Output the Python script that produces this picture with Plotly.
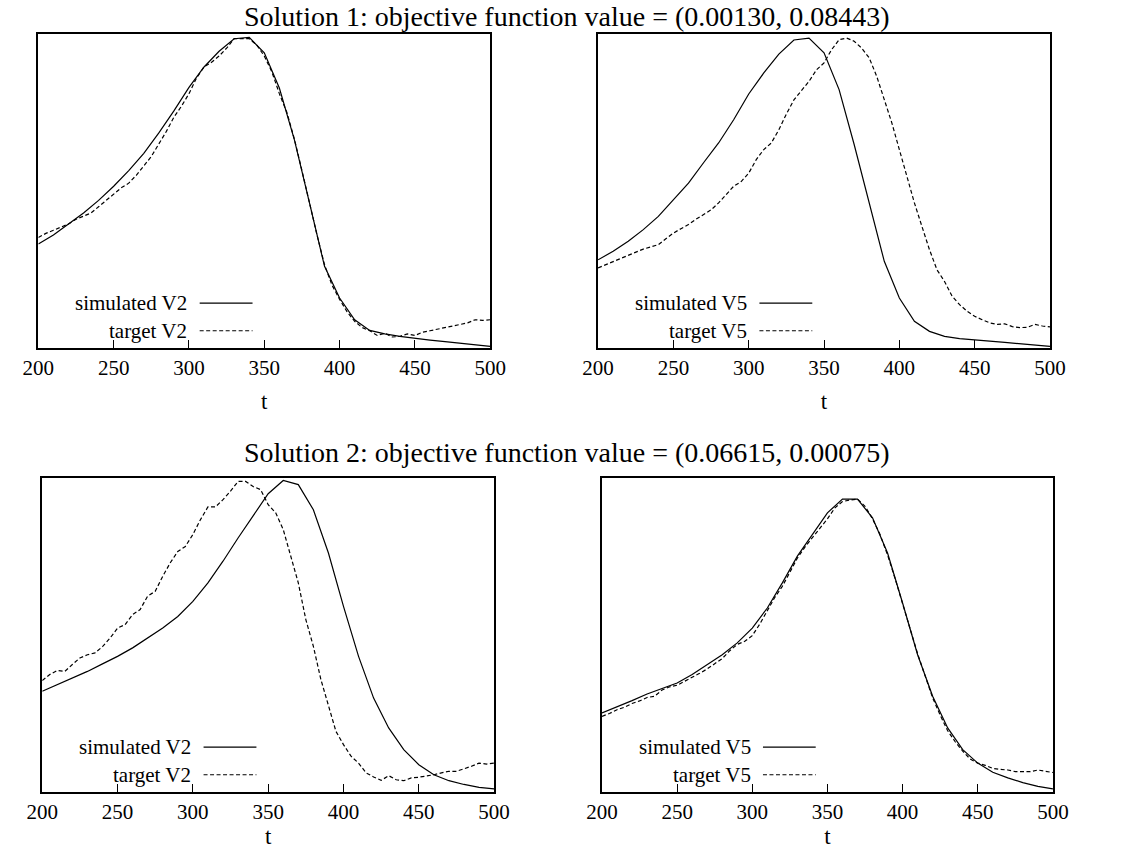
import plotly.graph_objects as go

# ---------------- data ----------------
t_sim = list(range(200, 501, 10))
t_tgt = list(range(200, 501, 5))

sol1_sim_v2 = [0.331, 0.36, 0.395, 0.43, 0.47, 0.515, 0.565, 0.62, 0.685, 0.755, 0.83,
               0.895, 0.945, 0.985, 0.989, 0.94, 0.828, 0.663, 0.462, 0.26, 0.159,
               0.09, 0.056, 0.045, 0.037, 0.030, 0.025, 0.02, 0.015, 0.01, 0.005]
sol1_tgt_v2 = [0.352, 0.365, 0.375, 0.385, 0.395, 0.41, 0.42, 0.43, 0.45, 0.47, 0.49,
               0.51, 0.525, 0.55, 0.58, 0.61, 0.65, 0.69, 0.735, 0.77, 0.81,
               0.86, 0.895, 0.91, 0.93, 0.955, 0.985, 0.985, 0.985, 0.965, 0.93,
               0.88, 0.81, 0.75, 0.665, 0.565, 0.46, 0.36, 0.265, 0.2, 0.155,
               0.115, 0.085, 0.065, 0.055, 0.04, 0.047, 0.035, 0.037, 0.045, 0.04,
               0.05, 0.055, 0.06, 0.065, 0.07, 0.075, 0.08, 0.09, 0.088, 0.09]

sol1_sim_v5 = [0.281, 0.308, 0.34, 0.377, 0.419, 0.472, 0.525, 0.59, 0.653, 0.727, 0.809,
               0.876, 0.936, 0.981, 0.987, 0.94, 0.823, 0.648, 0.462, 0.276, 0.159,
               0.085, 0.053, 0.037, 0.03, 0.027, 0.022, 0.018, 0.013, 0.009, 0.005]
sol1_tgt_v5 = [0.255, 0.265, 0.276, 0.286, 0.297, 0.306, 0.315, 0.322, 0.329, 0.348, 0.366,
               0.38, 0.393, 0.41, 0.425, 0.44, 0.462, 0.49, 0.515, 0.53, 0.557,
               0.6, 0.632, 0.653, 0.695, 0.745, 0.79, 0.82, 0.849, 0.886, 0.908,
               0.95, 0.982, 0.987, 0.977, 0.955, 0.924, 0.865, 0.79, 0.717, 0.632,
               0.547, 0.462, 0.387, 0.313, 0.249, 0.212, 0.165, 0.138, 0.117, 0.101,
               0.09, 0.08, 0.075, 0.077, 0.068, 0.065, 0.066, 0.075, 0.07, 0.067]

sol2_sim_v2 = [0.321, 0.342, 0.363, 0.384, 0.408, 0.432, 0.459, 0.49, 0.522, 0.559, 0.607,
               0.666, 0.735, 0.809, 0.878, 0.95, 0.992, 0.979, 0.899, 0.761, 0.591,
               0.432, 0.299, 0.204, 0.135, 0.087, 0.055, 0.036, 0.024, 0.015, 0.01]
sol2_tgt_v2 = [0.355, 0.374, 0.387, 0.384, 0.406, 0.427, 0.437, 0.443, 0.463, 0.49, 0.522,
               0.533, 0.565, 0.581, 0.624, 0.639, 0.687, 0.73, 0.766, 0.782, 0.82,
               0.867, 0.908, 0.908, 0.931, 0.958, 0.989, 0.989, 0.973, 0.963, 0.915,
               0.889, 0.836, 0.751, 0.666, 0.549, 0.464, 0.358, 0.278, 0.193, 0.151,
               0.114, 0.092, 0.061, 0.048, 0.037, 0.052, 0.039, 0.036, 0.045, 0.047,
               0.05, 0.055, 0.061, 0.066, 0.066, 0.073, 0.082, 0.092, 0.089, 0.092]

sol2_sim_v5 = [0.252, 0.271, 0.291, 0.312, 0.33, 0.347, 0.374, 0.406, 0.437, 0.475, 0.522,
               0.586, 0.666, 0.751, 0.82, 0.889, 0.933, 0.933, 0.873, 0.761, 0.602,
               0.437, 0.305, 0.204, 0.135, 0.092, 0.063, 0.045, 0.03, 0.018, 0.01]
sol2_tgt_v5 = [0.241, 0.25, 0.262, 0.27, 0.282, 0.29, 0.301, 0.305, 0.325, 0.335, 0.34,
               0.352, 0.365, 0.378, 0.392, 0.41, 0.425, 0.45, 0.47, 0.48, 0.498,
               0.535, 0.58, 0.62, 0.655, 0.7, 0.745, 0.78, 0.81, 0.84, 0.87,
               0.905, 0.925, 0.93, 0.933, 0.91, 0.87, 0.82, 0.755, 0.68, 0.6,
               0.52, 0.44, 0.37, 0.3, 0.245, 0.195, 0.16, 0.13, 0.105, 0.092,
               0.085, 0.075, 0.072, 0.07, 0.065, 0.065, 0.065, 0.07, 0.065, 0.062]

panels = [
    # (sim, tgt, label, x-domain, y-domain, title standoff)
    (sol1_sim_v2, sol1_tgt_v2, "V2", [23/1134, 488/1134], [1-348/854, 1-34/854], 14),
    (sol1_sim_v5, sol1_tgt_v5, "V5", [599/1134, 1064/1134], [1-348/854, 1-34/854], 14),
    (sol2_sim_v2, sol2_tgt_v2, "V2", [27/1134, 492/1134], [1-792/854, 1-478/854], 5),
    (sol2_sim_v5, sol2_tgt_v5, "V5", [603/1134, 1067/1134], [1-792/854, 1-478/854], 5),
]
titles = ["Solution 1: objective function value = (0.00130, 0.08443)",
          "Solution 2: objective function value = (0.06615, 0.00075)"]
x_ticks = [200, 250, 300, 350, 400, 450, 500]

FONT = "Liberation Serif"
DASH = "4px,2.5px"
fig = go.Figure()
layout = dict(
    width=1134, height=854, margin=dict(l=0, r=0, t=0, b=0),
    paper_bgcolor="white", plot_bgcolor="white", showlegend=False,
    font=dict(family=FONT, size=21, color="black"),
)
annotations = []
shapes = []
for i, (sim, tgt, lab, xd, yd, stand) in enumerate(panels):
    n = "" if i == 0 else str(i + 1)
    xa, ya = "x" + n, "y" + n
    fig.add_trace(go.Scatter(x=t_sim, y=sim, mode="lines", xaxis=xa, yaxis=ya,
                             line=dict(color="black", width=1.2)))
    fig.add_trace(go.Scatter(x=t_tgt, y=tgt, mode="lines", xaxis=xa, yaxis=ya,
                             line=dict(color="black", width=1.2, dash=DASH)))
    layout["xaxis" + n] = dict(domain=xd, range=[200, 500], tickvals=x_ticks,
                               ticks="inside", ticklen=8, tickcolor="black", tickwidth=1,
                               showline=True, mirror=True, linecolor="black", linewidth=1.5,
                               showgrid=False, zeroline=False, anchor=ya,
                               title=dict(text="t", standoff=stand, font=dict(size=23)),
                               tickfont=dict(size=21))
    layout["yaxis" + n] = dict(domain=yd, range=[0, 1.0], showticklabels=False,
                               ticks="", showline=True, mirror=True, linecolor="black",
                               linewidth=1.5, showgrid=False, zeroline=False, anchor=xa)
    xdom = xa + " domain"
    ydom = ya + " domain"
    for txt, yy, dash in [("simulated " + lab, 0.143, "solid"),
                          ("target " + lab, 0.055, DASH)]:
        annotations.append(dict(text=txt, x=0.332, y=yy, xref=xdom, yref=ydom,
                                xanchor="right", yanchor="middle", showarrow=False,
                                borderpad=0, font=dict(size=21)))
        shapes.append(dict(type="line", x0=0.357, x1=0.474, y0=yy, y1=yy,
                           xref=xdom, yref=ydom,
                           line=dict(color="black", width=1.2, dash=dash)))

annotations.append(dict(text=titles[0], x=0.5, y=1-16/854, xref="paper", yref="paper",
                        xanchor="center", yanchor="middle", showarrow=False,
                        font=dict(size=28)))
annotations.append(dict(text=titles[1], x=0.5, y=1-452/854, xref="paper", yref="paper",
                        xanchor="center", yanchor="middle", showarrow=False,
                        font=dict(size=28)))
layout["annotations"] = annotations
layout["shapes"] = shapes
fig.update_layout(**layout)
fig.write_html("out.html")
